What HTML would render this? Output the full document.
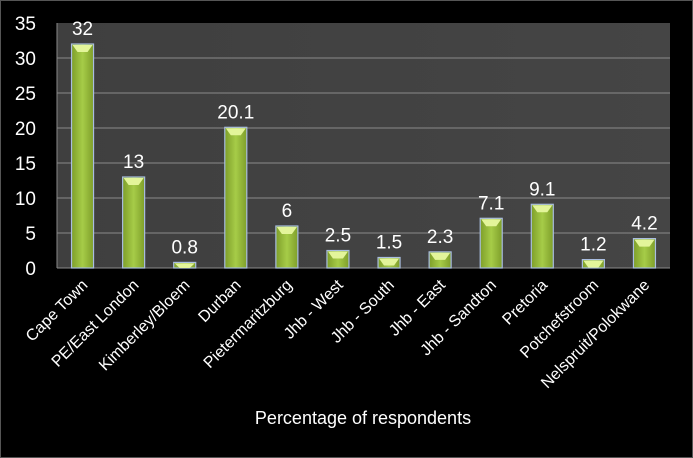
<!DOCTYPE html>
<html><head><meta charset="utf-8"><style>
body{margin:0;background:#000;}
svg{display:block;font-family:"Liberation Sans",Calibri,sans-serif;}
</style></head><body>
<svg width="693" height="458" viewBox="0 0 693 458">
<defs>
<linearGradient id="bg" x1="0" y1="0" x2="1" y2="0"><stop offset="0" stop-color="#3f3f3f"/><stop offset="1" stop-color="#454545"/></linearGradient>
<linearGradient id="bar" x1="0" y1="0" x2="1" y2="0"><stop offset="0" stop-color="#7e9e2a"/><stop offset="0.5" stop-color="#a6cc48"/><stop offset="1" stop-color="#7e9e2a"/></linearGradient>
</defs>
<rect x="0.5" y="0.5" width="692" height="457" fill="#000" stroke="#555"/>
<rect x="57" y="23" width="613" height="245" fill="url(#bg)"/>
<g id="grid"></g><g id="bars"></g><g id="labels"></g>
<text x="363" y="424" fill="#fff" font-size="18" text-anchor="middle">Percentage of respondents</text>
</svg>
<script>
const categories=["Cape Town","PE/East London","Kimberley/Bloem","Durban","Pietermaritzburg","Jhb - West","Jhb - South","Jhb - East","Jhb - Sandton","Pretoria","Potchefstroom","Nelspruit/Polokwane"];
const values=[32,13,0.8,20.1,6,2.5,1.5,2.3,7.1,9.1,1.2,4.2];
const valueLabels=["32","13","0.8","20.1","6","2.5","1.5","2.3","7.1","9.1","1.2","4.2"];
const yTicks=[0,5,10,15,20,25,30,35];
const NS="http://www.w3.org/2000/svg";
const x0=57,x1=670,y0=268,yTop=23,ymax=35;
const y=v=>y0-(v/ymax)*(y0-yTop);
const bw=(x1-x0)/categories.length;
const xc=i=>x0+bw*(i+0.5);
function mk(t,a,p){const e=document.createElementNS(NS,t);for(const k in a)e.setAttribute(k,a[k]);p.appendChild(e);return e;}
const g=document.getElementById('grid'),b=document.getElementById('bars'),l=document.getElementById('labels');
yTicks.forEach(t=>{
 if(t>0&&t<ymax){const ln=mk('line',{x1:x0,x2:x1,y1:y(t),y2:y(t),stroke:'#8a8a8a','stroke-width':1},g);
 
 }
 const tx=mk('text',{x:36,y:y(t)+7,fill:'#fff','font-size':19,'text-anchor':'end'},l);tx.textContent=t;
 
 
});
const ax=mk('line',{x1:x0,x2:x1,y1:y0,y2:y0,stroke:'#8a8a8a'},g);


const ay=mk('line',{x1:x0,x2:x0,y1:yTop,y2:y0,stroke:'#8a8a8a'},g);


categories.forEach((c,i)=>{
 const w=22,cx=xc(i),top=y(values[i]);
 const r=mk('rect',{x:cx-w/2,y:top,width:w,height:y0-top,fill:'url(#bar)',stroke:'#a9bde0','stroke-width':1.2},b);
 
 
 const h=Math.min(8,y0-top);
 const tri=mk('polygon',{points:`${cx-w/2+1},${top+1} ${cx+w/2-1},${top+1} ${cx+w/2-6},${top+h} ${cx-w/2+6},${top+h}`,fill:'#e3f59a'},b);
 
 
 const v=mk('text',{x:cx,y:top-9,fill:'#fff','font-size':19,'text-anchor':'middle'},l);v.textContent=valueLabels[i];
 
 
 const t=mk('text',{x:cx+6,y:286,fill:'#fff','font-size':16,'text-anchor':'end',transform:`rotate(-45 ${cx+6} 286)`},l);t.textContent=c;
 
 
});
</script>
</body></html>
